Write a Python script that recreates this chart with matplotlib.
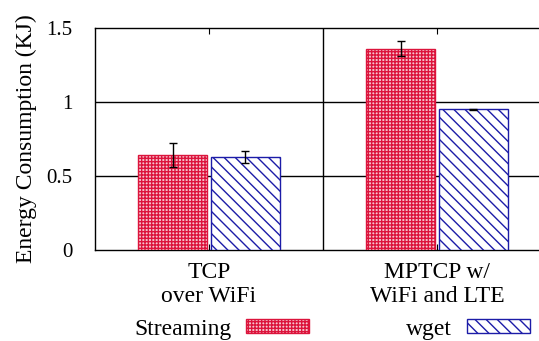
import numpy as np
import matplotlib.pyplot as plt
from matplotlib.patches import Patch

# data
groups = ['TCP\nover WiFi', 'MPTCP w/\nWiFi and LTE']
streaming = [0.64, 1.36]
streaming_err = [0.08, 0.05]
wget = [0.63, 0.95]
wget_err = [0.04, 0.005]
yticks = [0, 0.5, 1, 1.5]
ytick_labels = ['0', '0.5', '1', '1.5']

red = '#dc143c'
blue = '#1c1ca8'

plt.rcParams['font.family'] = ['Liberation Serif', 'DejaVu Serif']
plt.rcParams['hatch.linewidth'] = 1.0

fig = plt.figure(figsize=(5.39, 3.41), dpi=100)
ax = fig.add_axes([95/539, 91/341, 456/539, 222/341])

x = np.arange(len(groups))
w = 0.305
off = 0.16

ax.bar(x - off, streaming, w, facecolor='#f6c4ce', edgecolor=red, hatch='+++++', lw=1, zorder=3)
ax.bar(x + off, wget, w, facecolor='white', edgecolor=blue, hatch='\\' * 3, lw=1, zorder=3)
ax.errorbar(x - off, streaming, yerr=streaming_err, fmt='none', ecolor='black', elinewidth=1, capsize=3, zorder=4)
ax.errorbar(x + off, wget, yerr=wget_err, fmt='none', ecolor='black', elinewidth=1, capsize=3, zorder=4)

ax.set_xlim(-0.5, 1.5)
ax.set_ylim(0, 1.5)
ax.set_yticks(yticks)
ax.set_yticklabels(ytick_labels, fontsize=15)
ax.set_xticks(x)
ax.set_xticklabels(groups, fontsize=17, linespacing=1.15)
ax.tick_params(axis='x', direction='in', length=4, top=True, pad=9)
ax.tick_params(axis='y', length=0, pad=16)

for v in [0.5, 1.0]:
    ax.axhline(v, color='black', lw=1, zorder=1)
ax.axvline(0.5, color='black', lw=1, zorder=1)
for s in ax.spines.values():
    s.set_linewidth(1)

ax.set_ylabel('Energy Consumption (KJ)', fontsize=17, labelpad=7)

handles = [Patch(facecolor='#f6c4ce', edgecolor=red, hatch='+++++', lw=1),
           Patch(facecolor='white', edgecolor=blue, hatch='\\' * 3, lw=1)]
fig.legend(handles, ['Streaming', 'wget'], loc='center', bbox_to_anchor=(332/539, 1 - 329/341),
           ncol=2, frameon=False, markerfirst=False, fontsize=17,
           handlelength=2.67, handleheight=0.55, handletextpad=0.64, columnspacing=4.1)

fig.savefig('out.png', dpi=100)
